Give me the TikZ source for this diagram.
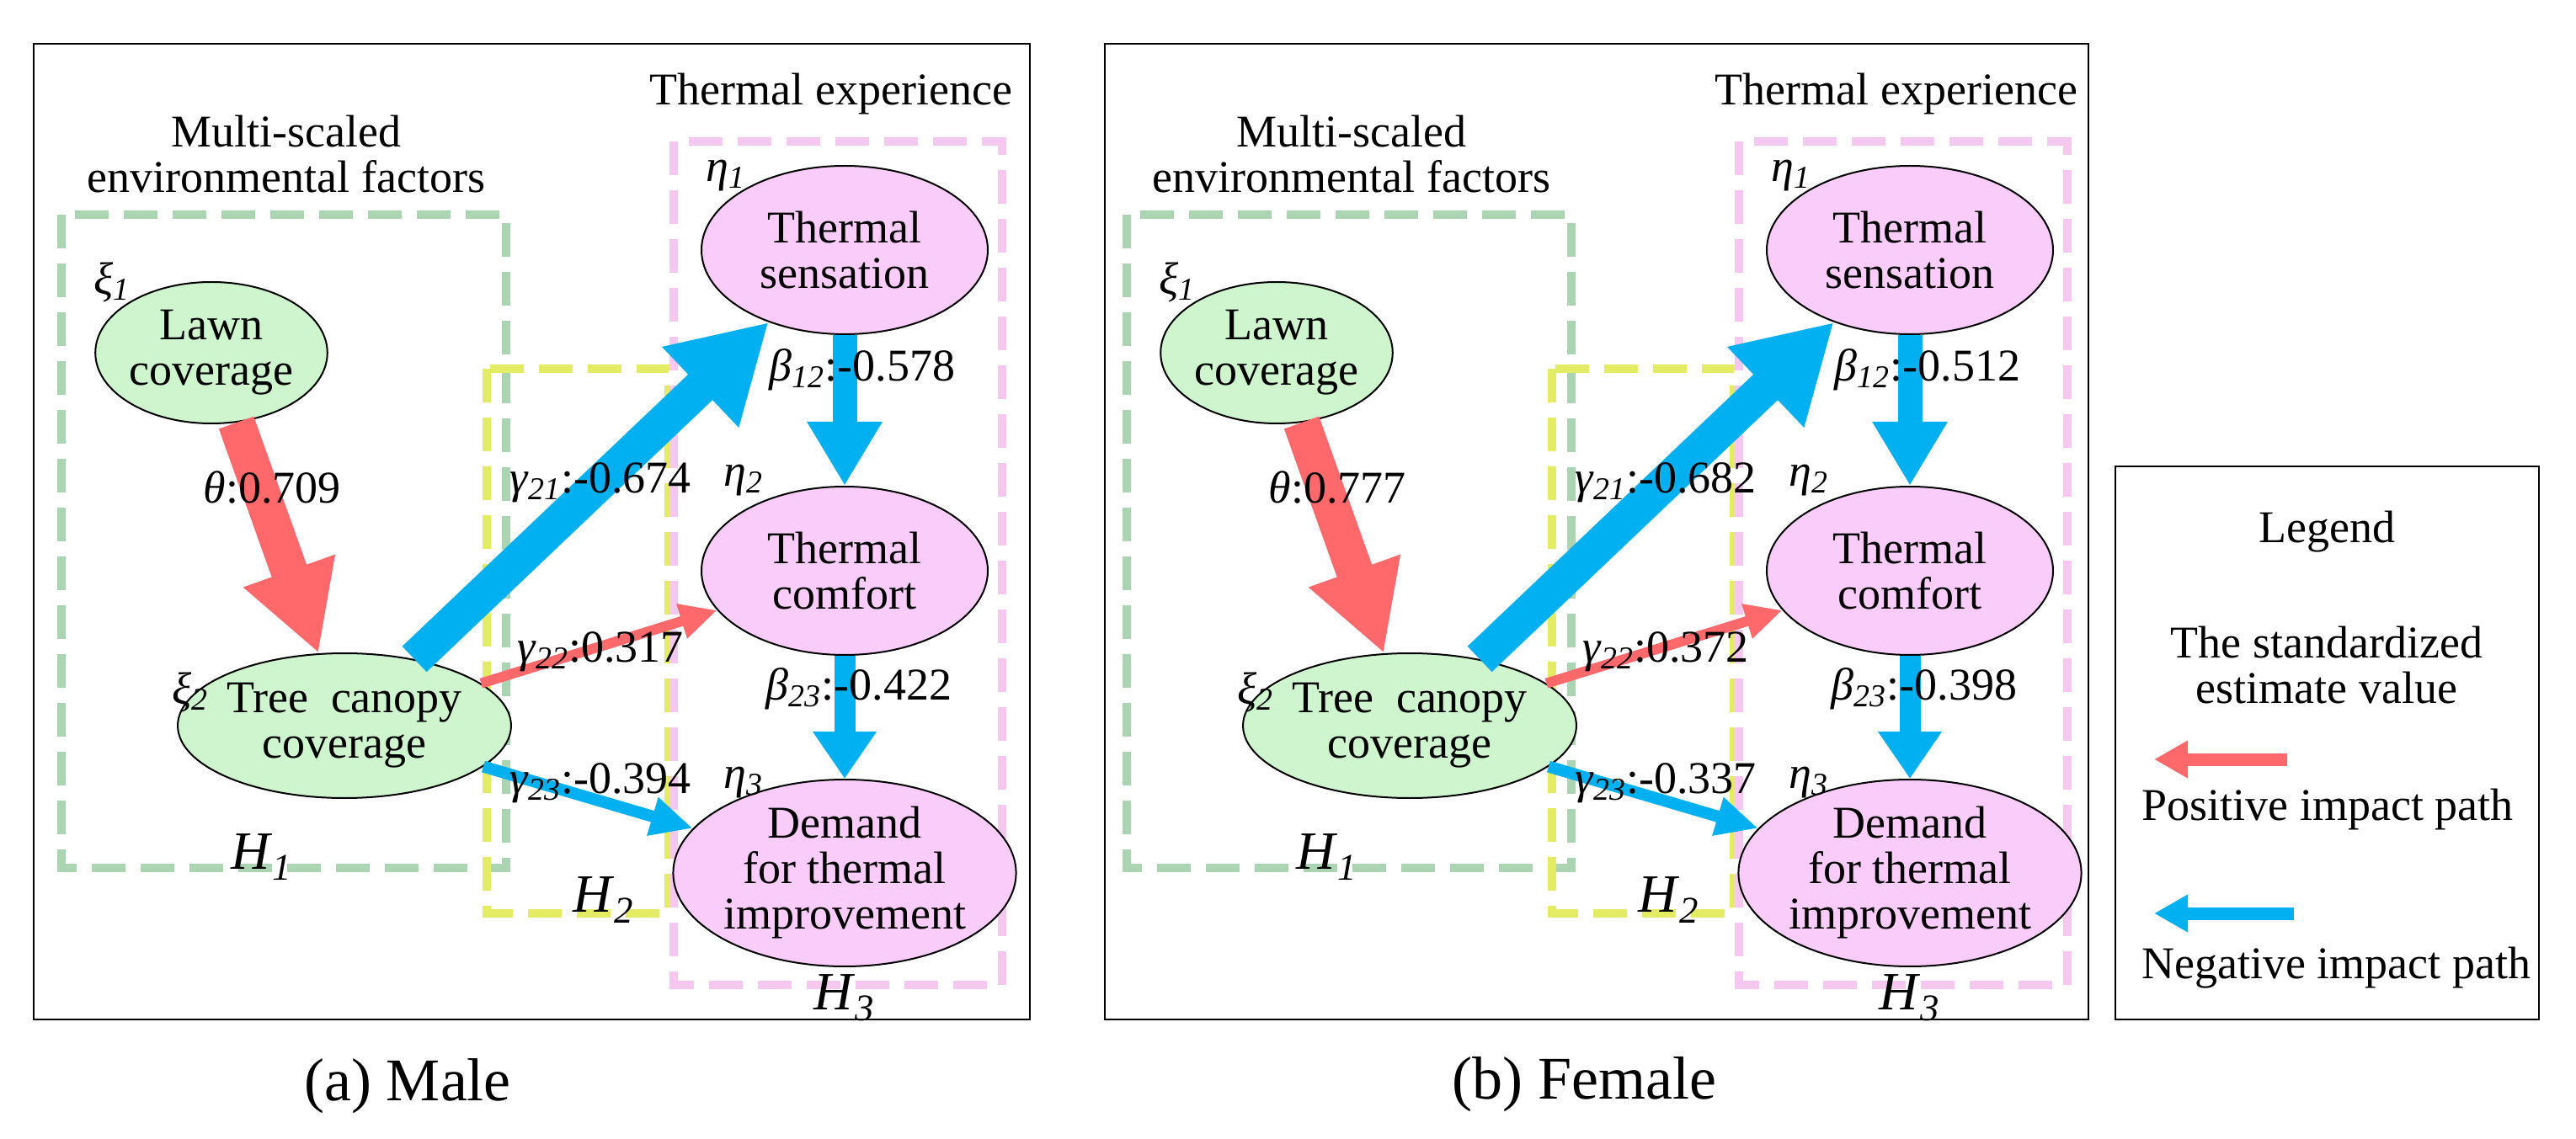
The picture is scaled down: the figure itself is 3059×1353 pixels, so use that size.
\documentclass[tikz,border=0pt]{standalone}
\usepackage{fontspec}
\setmainfont{Liberation Serif}
\usetikzlibrary{shapes.geometric,arrows.meta}
\definecolor{gfill}{RGB}{206,245,206}
\definecolor{pfill}{RGB}{250,204,250}
\definecolor{gdash}{RGB}{170,212,178}
\definecolor{ydash}{RGB}{228,236,100}
\definecolor{pdash}{RGB}{246,200,240}
\definecolor{redA}{RGB}{255,105,108}
\definecolor{bluA}{RGB}{0,176,240}
\tikzset{
  txt/.style={font=\rmfamily\fontsize{27}{27}\selectfont, align=center, inner sep=0pt},
  big/.style={font=\rmfamily\fontsize{32}{34}\selectfont, inner sep=0pt},
  captxt/.style={font=\rmfamily\fontsize{36}{38}\selectfont, inner sep=0pt},
  gell/.style={ellipse, draw=black, line width=1pt, fill=gfill, txt},
  pell/.style={ellipse, draw=black, line width=1pt, fill=pfill, txt, minimum width=170pt, minimum height=100pt},
  dbox/.style={line width=5pt, dash pattern=on 20pt off 9pt},
  frame/.style={draw=black, line width=1.2pt},
  fat/.style args={#1/#2/#3/#4}{draw=#1, line width=#2pt, -{Triangle[width=#3pt,length=#4pt]}},
}
\newcommand\gsub[2]{\textit{#1}\textsubscript{\textit{#2}}}
% #1 prefix, #2 xshift(px), #3 theta, #4 g21, #5 g22, #6 g23, #7 b12, #8 b23
\newcommand\drawpanel[8]{%
\begin{scope}[xshift=#2*0.5pt]
  \draw[dbox, gdash] (73,255) rectangle (601,1031);
  \draw[dbox, ydash] (578,438) rectangle (794,1085);
  \draw[dbox, pdash] (800,168) rectangle (1190,1170);
  \node[txt] (#1te) at (987,112) {Thermal experience};
  \node[txt] (#1ms) at (340,183) {Multi-scaled\\environmental factors};
  \node[gell, minimum width=129pt, minimum height=84pt] (#1lawn) at (251,419) {Lawn\\coverage};
  \node[gell, minimum width=162pt, minimum height=86pt] (#1tree) at (409,862) {Tree~~canopy\\coverage};
  \node[pell] (#1sens) at (1003,297) {Thermal\\sensation};
  \node[pell] (#1comf) at (1003,678) {Thermal\\comfort};
  \node[pell] (#1dem) at (1003,1037) {Demand\\for thermal\\improvement};
  \node[txt] (#1x1) at (133,335) {\gsub{ξ}{1}};
  \node[txt] (#1x2) at (226,822) {\gsub{ξ}{2}};
  \node[txt] (#1e1) at (862,209) {\gsub{η}{1}};
  \node[txt] (#1e2) at (883,571) {\gsub{η}{2}};
  \node[txt] (#1e3) at (883,930) {\gsub{η}{3}};
  \node[big] (#1h1) at (311,1018) {\gsub{H}{1}};
  \node[big] (#1h2) at (717,1069) {\gsub{H}{2}};
  \node[big] (#1h3) at (1003,1185) {\gsub{H}{3}};
  \draw[fat=redA/22/54/52] (#1lawn) -- (#1tree);
  \draw[fat=bluA/21/62/56] (#1tree) -- (#1sens);
  \draw[fat=redA/6/20/22] (#1tree) -- (#1comf);
  \draw[fat=bluA/7/22/25] (#1tree) -- (#1dem);
  \draw[fat=bluA/14.5/42/38] (#1sens) -- (#1comf);
  \draw[fat=bluA/12.5/36/28] (#1comf) -- (#1dem);
  \node[txt] (#1lt) at (323,579) {\textit{θ}:#3};
  \node[txt] (#1l21) at (713,573) {\gsub{γ}{21}:#4};
  \node[txt] (#1l22) at (713,774) {\gsub{γ}{22}:#5};
  \node[txt] (#1l23) at (713,930) {\gsub{γ}{23}:#6};
  \node[txt] (#1l12) at (1024,439) {\gsub{β}{12}:#7};
  \node[txt] (#1l23b) at (1020,818) {\gsub{β}{23}:#8};
\end{scope}}
\begin{document}
\begin{tikzpicture}[x=0.5pt,y=-0.5pt]
  \useasboundingbox[fill=white] (0,0) rectangle (3059,1353);
  \draw[frame] (40,52) rectangle (1223,1211);
  \draw[frame] (1312,52) rectangle (2480,1211);
  \draw[frame] (2512,554) rectangle (3015,1211);
  \drawpanel{a}{0}{0.709}{-0.674}{0.317}{-0.394}{-0.578}{-0.422}
  \drawpanel{b}{1265}{0.777}{-0.682}{0.372}{-0.337}{-0.512}{-0.398}
  \node[captxt] (capa) at (484,1290) {(a) Male};
  \node[captxt] (capb) at (1881,1288) {(b) Female};
  \node[txt] (leg) at (2763,632) {Legend};
  \node[txt] (legs) at (2763,790) {The standardized\\estimate value};
  \coordinate (rt) at (2716,902); \coordinate (rh) at (2558,902);
  \coordinate (bt) at (2724,1085); \coordinate (bh) at (2558,1085);
  \draw[fat=redA/7.5/21/20] (rt) -- (rh);
  \draw[fat=bluA/7.5/21/20] (bt) -- (bh);
  \node[txt] (pos) at (2764,962) {Positive impact path};
  \node[txt] (neg) at (2774,1150) {Negative impact path};
\end{tikzpicture}
\end{document}
